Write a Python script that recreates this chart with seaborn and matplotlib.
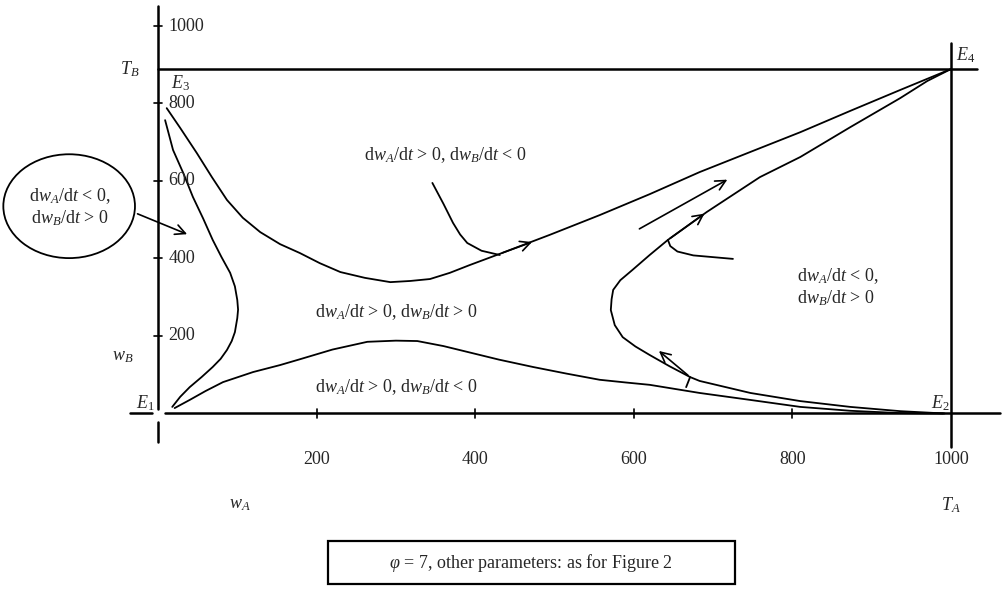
import numpy as np
import pandas as pd
import matplotlib.pyplot as plt
import seaborn as sns
from matplotlib.patches import Ellipse, Rectangle

# trajectories (w_A, w_B)
upper_wa = [11, 28, 49, 68, 87, 107, 129, 154, 179, 204, 230, 261, 293, 318, 343, 368, 393, 431,
            494, 557, 620, 683, 747, 810, 873, 936, 1000]
upper_wb = [788, 737, 672, 610, 551, 505, 468, 437, 414, 388, 365, 350, 339, 342, 347, 363, 383, 412,
            461, 512, 566, 623, 675, 726, 781, 835, 889]

left_wa = [9, 19, 32, 44, 57, 69, 80, 91, 97, 100, 101, 100, 97, 93, 87, 79, 69, 55, 40, 28, 18]
left_wb = [757, 680, 620, 559, 503, 448, 404, 363, 328, 293, 268, 246, 210, 187, 164, 141, 120, 94, 68, 43, 17]

lower_wa = [21, 40, 60, 82, 120, 154, 179, 220, 264, 300, 327, 360, 390, 430, 473, 515, 557, 590, 620,
            650, 683, 747, 810, 873, 936, 990]
lower_wb = [14, 35, 58, 81, 107, 125, 140, 165, 185, 188, 187, 174, 159, 139, 120, 103, 87, 80, 74,
            64, 53, 35, 17, 7, 1, 0]

c_wa = [992, 936, 873, 810, 747, 683, 671, 645, 620, 602, 586, 576, 571, 572, 574, 583, 598, 620,
        643, 692, 759, 810, 873, 936, 970, 1000]
c_wb = [0, 6, 17, 32, 53, 84, 94, 122, 151, 173, 197, 228, 267, 295, 319, 344, 370, 409,
        448, 520, 610, 662, 739, 814, 858, 889]

side_wa = [725, 675, 655, 646, 643]
side_wb = [399, 408, 418, 432, 448]

drop_wa = [346, 360, 372, 381, 390, 408, 431]
drop_wb = [595, 541, 492, 462, 440, 420, 409]

x_ticks = [200, 400, 600, 800]
x_tick_labels = ["200", "400", "600", "800", "1000"]
y_ticks = [200, 400, 600, 800, 1000]
T_A = 1000
T_B = 889

sns.set_style("white")
plt.rcParams['font.family'] = ['Liberation Serif', 'DejaVu Serif']
plt.rcParams['mathtext.fontset'] = 'custom'
plt.rcParams['mathtext.rm'] = 'Liberation Serif'
plt.rcParams['mathtext.it'] = 'Liberation Serif:italic'

fig = plt.figure(figsize=(10.04, 5.9), dpi=100)
ax = fig.add_axes([0, 0, 1, 1])
ax.set_xlim(-199.2, 1066.8)
ax.set_ylim(-455.5, 1067.1)
ax.axis('off')

lk = dict(color='black', lw=1.3)
fs = 13

curves = [(upper_wa, upper_wb), (left_wa, left_wb), (lower_wa, lower_wb),
          (c_wa, c_wb), (side_wa, side_wb), (drop_wa, drop_wb)]
for xs, ys in curves:
    df = pd.DataFrame({"wA": xs, "wB": ys})
    sns.lineplot(data=df, x="wA", y="wB", sort=False, estimator=None, ax=ax, **lk)
ax.set_xlabel("")
ax.set_ylabel("")

# axes drawn as lines, broken at the origin
ak = dict(color='black', lw=1.8)
ax.plot([-35, -7], [0, 0], **ak)
ax.plot([9, 1062], [0, 0], **ak)
ax.plot([0, 0], [1051, 12], **ak)
ax.plot([0, 0], [-22, -73], **ak)
ax.plot([0, 1033], [T_B, T_B], **ak)
ax.plot([T_A, T_A], [956, -86], **ak)

for t in x_ticks:
    ax.plot([t, t], [-12, 12], color='black', lw=1.2)
for t in y_ticks:
    ax.plot([-5, 5], [t, t], color='black', lw=1.2)
    ax.text(13, t, str(t), ha='left', va='center', fontsize=fs)
for t, lab in zip(x_ticks + [T_A], x_tick_labels):
    ax.text(t, -120, lab, ha='center', va='center', fontsize=fs)

# arrows
ak2 = dict(arrowstyle='->', color='black', lw=1.2, mutation_scale=18)
ax.annotate("", xy=(475, 445), xytext=(431, 412), arrowprops=ak2)
ax.annotate("", xy=(692, 520), xytext=(643, 448), arrowprops=ak2)
ax.annotate("", xy=(721, 607), xytext=(604, 473), arrowprops=ak2)
ax.annotate("", xy=(629, 166), xytext=(671, 94), arrowprops=ak2)
ax.plot([671, 666], [94, 68], **lk)
ax.annotate("", xy=(40, 460), xytext=(-29, 518), arrowprops=ak2)

# ellipse call-out
ax.add_patch(Ellipse((-112, 535), 166, 268, fill=False, ec='black', lw=1.3))
ax.text(-111, 533, "d$w_A$/d$t$ < 0,\nd$w_B$/d$t$ > 0", ha='center', va='center',
        fontsize=fs, linespacing=1.2)

# region labels
ax.text(363, 667, "d$w_A$/d$t$ > 0, d$w_B$/d$t$ < 0", ha='center', va='center', fontsize=fs)
ax.text(301, 262, "d$w_A$/d$t$ > 0, d$w_B$/d$t$ > 0", ha='center', va='center', fontsize=fs)
ax.text(301, 68, "d$w_A$/d$t$ > 0, d$w_B$/d$t$ < 0", ha='center', va='center', fontsize=fs)
ax.text(806, 326, "d$w_A$/d$t$ < 0,\nd$w_B$/d$t$ > 0", ha='left', va='center',
        fontsize=fs, linespacing=1.2)

# point and axis labels
ax.text(28, 853, "$E_3$", ha='center', va='center', fontsize=fs)
ax.text(1018, 925, "$E_4$", ha='center', va='center', fontsize=fs)
ax.text(-16, 27, "$E_1$", ha='center', va='center', fontsize=fs)
ax.text(986, 27, "$E_2$", ha='center', va='center', fontsize=fs)
ax.text(-35, T_B, "$T_B$", ha='center', va='center', fontsize=fs)
ax.text(-44, 146, "$w_B$", ha='center', va='center', fontsize=fs)
ax.text(103, -236, "$w_A$", ha='center', va='center', fontsize=fs)
ax.text(T_A, -236, "$T_A$", ha='center', va='center', fontsize=fs)

# caption box
ax.add_patch(Rectangle((214, -440), 514, 111, fill=False, ec='black', lw=1.6))
ax.text(470, -386, r"$\varphi$ = 7, other parameters: as for Figure 2",
        ha='center', va='center', fontsize=fs)

fig.savefig("out.png", dpi=100)
